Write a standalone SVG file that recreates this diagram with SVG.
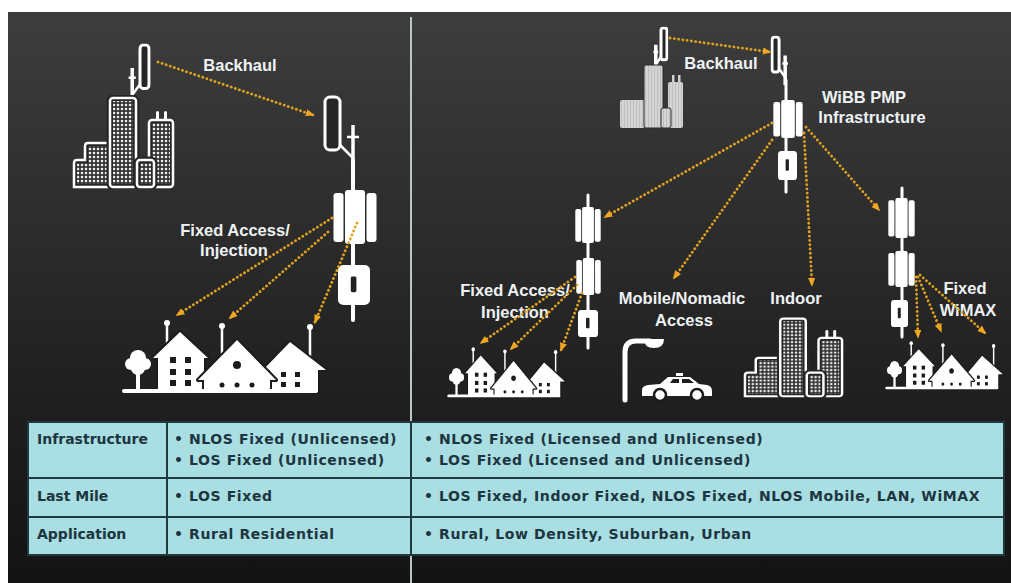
<svg xmlns="http://www.w3.org/2000/svg" xmlns:xlink="http://www.w3.org/1999/xlink" width="1011" height="583" viewBox="0 0 1011 583">
  <defs>
    <style>
      .lbl { font-family: "Liberation Sans", Arial, sans-serif; font-weight: bold; font-size: 16.5px; fill: #eef2f4; text-anchor: middle; }
      .cell { font-family: "DejaVu Sans", Verdana, sans-serif; font-weight: bold; font-size: 14px; fill: #1d3540; }
      .pt { letter-spacing: 0.6px; }
      .link { fill: none; stroke: #e0a21e; stroke-width: 2.8; stroke-dasharray: 0.1 4.2; stroke-linecap: round; marker-end: url(#tip); }
      .mast { stroke: #ffffff; stroke-linecap: round; fill: none; }
      .b { fill: #262626; stroke: #ffffff; stroke-width: 2.5; }
      .halo { fill: #262626; stroke: #262626; stroke-width: 7; }
      .home { fill: #ffffff; stroke: #1c1c1c; stroke-width: 4; paint-order: stroke; stroke-linejoin: round; }
      .hole { fill: #1c1c1c; }
      .rule { stroke: #1f3b3f; stroke-width: 2; }
    </style>
    <linearGradient id="bg" x1="0" y1="0" x2="0" y2="1">
      <stop offset="0" stop-color="#3d3d3d"/>
      <stop offset="0.7" stop-color="#1e1e1e"/>
      <stop offset="1" stop-color="#131313"/>
    </linearGradient>
    <pattern id="win" width="4" height="4" patternUnits="userSpaceOnUse">
      <rect width="4" height="4" fill="#2a2a2a"/>
      <rect x="0.8" y="0.8" width="2.4" height="2.4" fill="#ececec"/>
    </pattern>
    <pattern id="winGrey" width="3" height="3" patternUnits="userSpaceOnUse">
      <rect width="3" height="3" fill="#d4d4d4"/>
      <rect x="0" y="0" width="0.8" height="3" fill="#bababa"/>
    </pattern>
    <marker id="tip" viewBox="0 0 10 10" refX="8" refY="5" markerWidth="9" markerHeight="9" markerUnits="userSpaceOnUse" orient="auto">
      <path d="M0,1 L10,5 L0,9 Z" fill="#f0a623"/>
    </marker>

    <!-- three-panel sector antenna -->
    <symbol id="sector" viewBox="0 0 44 54" preserveAspectRatio="none">
      <rect x="0.5" y="3" width="10" height="49" rx="3" fill="#fff"/>
      <rect x="12" y="0" width="20" height="54" rx="3" fill="#fff"/>
      <rect x="33.5" y="3" width="10" height="49" rx="3" fill="#fff"/>
    </symbol>

    <!-- radio unit on the mast -->
    <symbol id="radio" viewBox="0 0 20 28" preserveAspectRatio="none">
      <rect x="0" y="0" width="20" height="28" rx="3.5" fill="#fff"/>
      <rect x="8" y="8" width="3.5" height="11" rx="1" fill="#222"/>
    </symbol>

    <!-- point-to-point panel with bracket and mast top -->
    <symbol id="dish" viewBox="0 0 40 75">
      <line x1="31" y1="30" x2="31" y2="75" stroke="#fff" stroke-width="3.5" vector-effect="non-scaling-stroke"/>
      <line x1="25" y1="42" x2="37" y2="42" stroke="#fff" stroke-width="2.5" vector-effect="non-scaling-stroke"/>
      <line x1="17" y1="49" x2="31" y2="63" stroke="#fff" stroke-width="2.5" vector-effect="non-scaling-stroke"/>
      <rect x="3" y="2" width="15" height="53" rx="5" fill="#262626" stroke="#fff" stroke-width="3" vector-effect="non-scaling-stroke"/>
    </symbol>

    <!-- row of homes with a tree -->
    <symbol id="homes" viewBox="0 0 210 76" preserveAspectRatio="none">
      <g fill="#fff">
        <circle cx="20" cy="40" r="8"/>
        <circle cx="13" cy="46" r="6"/>
        <circle cx="27" cy="46" r="6"/>
        <circle cx="20" cy="50" r="7"/>
        <rect x="18" y="48" width="4" height="26"/>
      </g>
      <line x1="49" y1="6" x2="49" y2="30" stroke="#fff" stroke-width="2.5"/>
      <circle cx="49" cy="5" r="3" fill="#fff"/>
      <path class="home" d="M35,40 L62,14 L90,40 H86 V74 H40 V40 Z"/>
      <g class="hole">
        <rect x="52" y="39" width="6" height="6"/><rect x="67" y="39" width="6" height="6"/>
        <rect x="52" y="51" width="6" height="6"/><rect x="67" y="51" width="6" height="6"/>
        <rect x="52" y="62" width="6" height="6"/><rect x="67" y="62" width="6" height="6"/>
      </g>
      <line x1="192" y1="10" x2="192" y2="44" stroke="#fff" stroke-width="2.5"/>
      <circle cx="192" cy="9" r="3" fill="#fff"/>
      <path class="home" d="M145,52 L172,24 L208,52 H200 V74 H152 V52 Z"/>
      <g class="hole">
        <rect x="163" y="54" width="5" height="5"/><rect x="177" y="54" width="5" height="5"/>
        <rect x="163" y="64" width="5" height="5"/><rect x="177" y="64" width="5" height="5"/>
      </g>
      <line x1="104" y1="9" x2="104" y2="40" stroke="#fff" stroke-width="2.5"/>
      <circle cx="104" cy="8" r="3" fill="#fff"/>
      <path class="home" d="M80,62 L119,22 L158,62 H152 V74 H86 V62 Z"/>
      <g class="hole">
        <circle cx="119" cy="47" r="4"/>
        <circle cx="104" cy="67" r="2.5"/><circle cx="119" cy="67" r="2.5"/><circle cx="134" cy="67" r="2.5"/>
      </g>
      <rect x="4" y="71" width="196" height="4" rx="2" fill="#fff"/>
    </symbol>

    <!-- outlined office towers -->
    <symbol id="city" viewBox="0 0 104 94" preserveAspectRatio="none">
      <path class="b" d="M2,92 V68 Q2,65 5,65 H13 V51 Q13,48 16,48 H35 Q38,48 38,51 V92 Z"/>
      <path d="M5,89 V68 H16 V51 H35 V89 Z" fill="url(#win)"/>
      <rect x="84" y="16" width="3" height="11" rx="1.5" fill="#fff"/>
      <rect x="92" y="16" width="3" height="11" rx="1.5" fill="#fff"/>
      <rect class="b" x="77" y="25" width="24" height="67" rx="3"/>
      <rect x="80" y="28" width="18" height="61" fill="url(#win)"/>
      <rect class="halo" x="38" y="3" width="26" height="89" rx="3"/>
      <rect class="b" x="38" y="3" width="26" height="89" rx="3"/>
      <rect x="41" y="6" width="20" height="83" fill="url(#win)"/>
      <rect class="halo" x="65" y="65" width="17" height="27" rx="3"/>
      <rect class="b" x="65" y="65" width="17" height="27" rx="3"/>
      <rect x="68" y="68" width="11" height="21" fill="url(#win)"/>
    </symbol>
  </defs>

  <!-- backdrop and panel divider -->
  <rect x="0" y="0" width="1011" height="583" fill="#ffffff"/>
  <rect x="8" y="12" width="1003" height="571" fill="url(#bg)"/>
  <line x1="411" y1="17" x2="411" y2="583" stroke="#bcc6c6" stroke-width="2"/>

  <!-- ===== left panel ===== -->
  <g id="city-left">
    <use href="#dish" width="40" height="75" transform="translate(150.8,43.4) scale(-0.6,0.82)"/>
    <use href="#city" x="72" y="95" width="104" height="94"/>
    <text class="lbl" x="240" y="71">Backhaul</text>
  </g>

  <g id="tower-left">
    <line class="mast" x1="353" y1="160" x2="353" y2="320" stroke-width="4"/>
    <use href="#dish" x="322" y="95" width="40" height="75"/>
    <use href="#sector" x="333" y="190" width="44" height="54"/>
    <use href="#radio" x="338" y="265" width="32" height="40"/>
    <text class="lbl" x="235" y="236">Fixed Access/</text>
    <text class="lbl" x="234" y="256">Injection</text>
  </g>

  <g id="homes-left">
    <use href="#homes" x="118" y="318" width="210" height="76"/>
  </g>

  <!-- ===== right panel ===== -->
  <g id="city-right">
    <use href="#dish" width="40" height="75" transform="translate(668.2,26.8) scale(-0.4,0.6)"/>
    <rect x="620" y="100" width="25" height="28" rx="2" fill="url(#winGrey)"/>
    <rect x="644" y="65" width="19" height="63" rx="2" fill="url(#winGrey)" stroke="#2a2a2a" stroke-width="1"/>
    <rect x="672" y="75" width="2.5" height="8" fill="#cfcfcf"/>
    <rect x="678" y="75" width="2.5" height="8" fill="#cfcfcf"/>
    <rect x="668" y="82" width="15" height="46" rx="2" fill="url(#winGrey)"/>
    <rect x="661" y="108" width="10" height="20" rx="2" fill="url(#winGrey)" stroke="#2a2a2a" stroke-width="1"/>
    <text class="lbl" x="721" y="69">Backhaul</text>
  </g>

  <g id="tower-wibb">
    <line class="mast" x1="786" y1="80" x2="786" y2="192" stroke-width="3"/>
    <use href="#dish" width="40" height="75" transform="translate(770.6,35.7) scale(0.47,0.66)"/>
    <use href="#sector" x="773" y="100" width="30" height="38"/>
    <use href="#radio" x="778" y="151" width="19" height="29"/>
    <text class="lbl" x="864" y="103">WiBB PMP</text>
    <text class="lbl" x="872" y="123">Infrastructure</text>
  </g>

  <g id="tower-access">
    <line class="mast" x1="588" y1="195" x2="588" y2="348" stroke-width="3"/>
    <use href="#sector" x="575" y="207" width="26" height="36"/>
    <use href="#sector" x="576" y="258" width="25" height="37"/>
    <use href="#radio" x="578" y="310" width="20" height="27"/>
    <text class="lbl" x="515" y="296">Fixed Access/</text>
    <text class="lbl" x="515" y="318">Injection</text>
  </g>

  <g id="homes-access">
    <use href="#homes" x="445" y="346" width="121" height="52"/>
  </g>

  <g id="mobile">
    <text class="lbl" x="682" y="304">Mobile/Nomadic</text>
    <text class="lbl" x="684" y="326">Access</text>
    <path d="M625,400 V352 Q625,341 636,341 H650" fill="none" stroke="#fff" stroke-width="5" stroke-linecap="round"/>
    <path d="M644,339 H664 Q664,348 654,348 Q644,348 644,339 Z" fill="#fff"/>
    <path d="M642,396 V390 Q642,386 648,385 L660,384 L668,377 H690 L699,384 L707,385 Q712,386 712,391 V396 Z" fill="#fff"/>
    <rect x="676" y="373" width="7" height="3" fill="#fff"/>
    <path d="M670,383 L673,379 H679 V383 Z M682,379 H689 L694,383 H682 Z" fill="#1c1c1c"/>
    <circle cx="660" cy="395" r="6" fill="#fff" stroke="#1c1c1c" stroke-width="2.5"/>
    <circle cx="697" cy="395" r="6" fill="#fff" stroke="#1c1c1c" stroke-width="2.5"/>
  </g>

  <g id="indoor">
    <text class="lbl" x="796" y="304">Indoor</text>
    <use href="#city" x="743" y="316" width="102" height="82"/>
  </g>

  <g id="tower-wimax">
    <line class="mast" x1="902" y1="188" x2="902" y2="337" stroke-width="3"/>
    <use href="#sector" x="888" y="198" width="27" height="40"/>
    <use href="#sector" x="888" y="251" width="27" height="36"/>
    <use href="#radio" x="891" y="300" width="17" height="27"/>
    <text class="lbl" x="965" y="294">Fixed</text>
    <text class="lbl" x="968" y="316">WiMAX</text>
  </g>

  <g id="homes-wimax">
    <use href="#homes" x="883" y="340" width="121" height="50"/>
  </g>

  <!-- radio links -->
  <g id="connectors">
    <path class="link" d="M158,62 L313,115"/>
    <path class="link" d="M332,218 L177,315"/>
    <path class="link" d="M328,232 L230,318"/>
    <path class="link" d="M357,223 L315,322"/>
    <path class="link" d="M670,38 L770,52"/>
    <path class="link" d="M772,123 L605,217"/>
    <path class="link" d="M772,140 L674,278"/>
    <path class="link" d="M804,133 L812,285"/>
    <path class="link" d="M806,127 L879,210"/>
    <path class="link" d="M575,277 L481,343"/>
    <path class="link" d="M577,285 L511,349"/>
    <path class="link" d="M582,293 L561,350"/>
    <path class="link" d="M916,277 L918,337"/>
    <path class="link" d="M918,277 L941,331"/>
    <path class="link" d="M920,275 L985,333"/>
  </g>

  <!-- comparison table -->
  <g id="table">
    <rect x="28" y="422" width="976" height="133" fill="#a9dee2" class="rule"/>
    <line class="rule" x1="167" y1="422" x2="167" y2="555"/>
    <line class="rule" x1="411" y1="422" x2="411" y2="555"/>
    <line class="rule" x1="28" y1="478" x2="1004" y2="478"/>
    <line class="rule" x1="28" y1="517" x2="1004" y2="517"/>
    <text class="cell" x="37" y="444">Infrastructure</text>
    <text class="cell pt" x="174" y="444">• NLOS Fixed (Unlicensed)</text>
    <text class="cell pt" x="174" y="465">• LOS Fixed (Unlicensed)</text>
    <text class="cell pt" x="424" y="444">• NLOS Fixed (Licensed and Unlicensed)</text>
    <text class="cell pt" x="424" y="465">• LOS Fixed (Licensed and Unlicensed)</text>
    <text class="cell" x="37" y="501">Last Mile</text>
    <text class="cell pt" x="174" y="501">• LOS Fixed</text>
    <text class="cell pt" x="424" y="501">• LOS Fixed, Indoor Fixed, NLOS Fixed, NLOS Mobile, LAN, WiMAX</text>
    <text class="cell" x="37" y="539">Application</text>
    <text class="cell pt" x="174" y="539">• Rural Residential</text>
    <text class="cell pt" x="424" y="539">• Rural, Low Density, Suburban, Urban</text>
  </g>
</svg>
